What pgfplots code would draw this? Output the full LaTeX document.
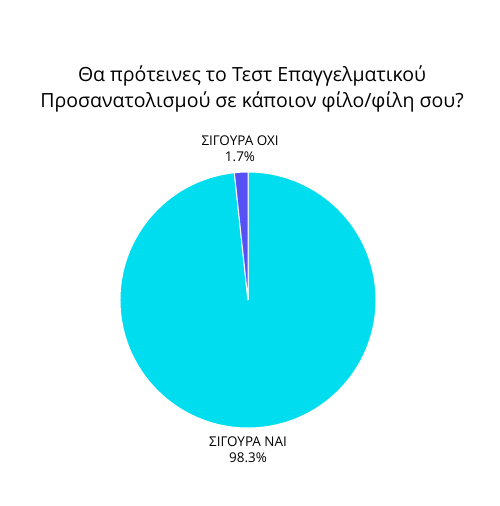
\documentclass[border=0pt]{standalone}
\usepackage{pgfplots}
\pgfplotsset{compat=1.18}
\usepackage{pgfplotstable}
\usepackage{fontspec}
\setmainfont{Open Sans}
\definecolor{pieCyan}{HTML}{00DDEE}
\definecolor{pieBlue}{HTML}{5551F5}

% share of answers, percent
\pgfplotstableread{
label value
NAI 98.3
OXI 1.7
}\piedata

\begin{document}
\begin{tikzpicture}
\pgfplotstablegetelem{0}{value}\of\piedata \let\vNai\pgfplotsretval
\pgfplotstablegetelem{1}{value}\of\piedata \let\vOxi\pgfplotsretval
\pgfmathsetmacro\aOxi{90+3.6*\vOxi}
\pgfmathsetmacro\aEnd{\aOxi+3.6*\vNai}
\begin{axis}[
    hide axis, scale only axis,
    x=1bp, y=1bp,
    xmin=0, xmax=500, ymin=0, ymax=506,
    clip=false,
  ]
  \fill[pieCyan, draw=white, line width=1bp] (axis cs:248,206) -- ++(\aOxi:128bp)
    arc[start angle=\aOxi, end angle=\aEnd, radius=128bp] -- cycle;
  \fill[pieBlue, draw=white, line width=1bp] (axis cs:248,206) -- ++(90:128bp)
    arc[start angle=90, end angle=\aOxi, radius=128bp] -- cycle;
  \node[align=center, font=\fontsize{19.6}{27}\selectfont] at (axis cs:252,417)
    {Θα πρότεινες το Τεστ Επαγγελματικού\\Προσανατολισμού σε κάποιον φίλο/φίλη σου?};
  \node[align=center, font=\fontsize{13.5}{16.5}\selectfont] at (axis cs:240,357)
    {ΣΙΓΟΥΡΑ ΟΧΙ\\1.7\%};
  \node[align=center, font=\fontsize{13.5}{16.5}\selectfont] at (axis cs:248,56)
    {ΣΙΓΟΥΡΑ ΝΑΙ\\98.3\%};
\end{axis}
\path (0,0) rectangle (500bp,506bp);
\end{tikzpicture}
\end{document}
